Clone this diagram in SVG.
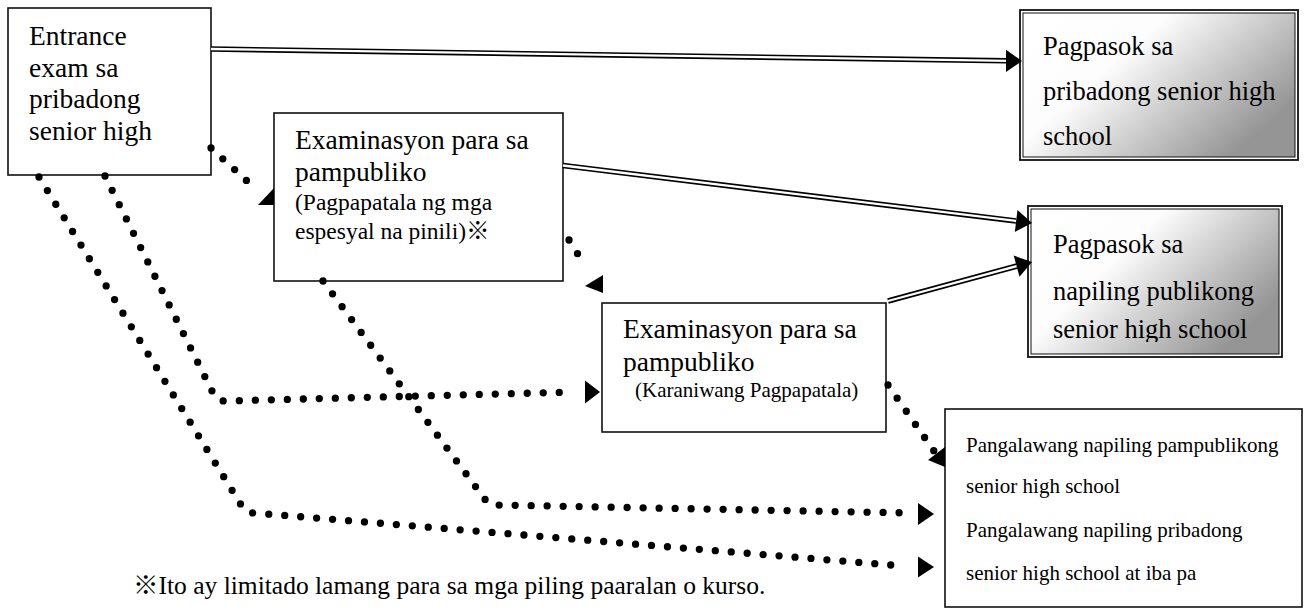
<svg xmlns="http://www.w3.org/2000/svg" width="1304" height="612" viewBox="0 0 1304 612">
<style>
  .box { fill:#fff; stroke:#111; stroke-width:1.6; }
  .outer { fill:none; stroke:#111; stroke-width:1.8; }
  .inner { fill:url(#grad); stroke:#111; stroke-width:1; }
  .t { font-family:"Liberation Serif","Times New Roman","Noto Sans CJK JP",serif; fill:#000; }
  .big { font-size:27.5px; }
  .mid { font-size:26.5px; }
  .sub { font-size:23.5px; }
  .small { font-size:21px; }
  .dot { fill:none; stroke:#000; stroke-width:7.3; stroke-linecap:round; stroke-dasharray:0 16; }
  .dblo { fill:none; stroke:#000; stroke-width:5.5; }
  .dbli { fill:none; stroke:#fff; stroke-width:2.3; }
  .head { fill:#000; }
</style>
<defs>
  <linearGradient id="grad" x1="0" y1="0" x2="1" y2="0.6">
    <stop offset="0" stop-color="#ffffff"/>
    <stop offset="0.4" stop-color="#fdfdfd"/>
    <stop offset="1" stop-color="#959595"/>
  </linearGradient>
  <clipPath id="clip5">
    <rect x="1031" y="209" width="248" height="133"/>
  </clipPath>
</defs>

<g id="node-entrance-exam">
  <rect class="box" x="8" y="8" width="203" height="167"/>
  <text class="t big" x="29" y="45">Entrance</text>
  <text class="t big" x="29" y="77">exam sa</text>
  <text class="t big" x="29" y="108">pribadong</text>
  <text class="t big" x="29" y="140">senior high</text>
</g>

<g id="node-exam-special">
  <rect class="box" x="274" y="113" width="289" height="168"/>
  <text class="t big" x="295" y="149">Examinasyon para sa</text>
  <text class="t big" x="295" y="181">pampubliko</text>
  <text class="t sub" x="295" y="210">(Pagpapatala ng mga</text>
  <text class="t sub" x="295" y="239">espesyal na pinili)※</text>
</g>

<g id="node-exam-general">
  <rect class="box" x="602" y="303" width="284" height="129"/>
  <text class="t big" x="623" y="338">Examinasyon para sa</text>
  <text class="t big" x="623" y="371">pampubliko</text>
  <text class="t small" x="635" y="397">(Karaniwang Pagpapatala)</text>
</g>

<g id="node-private-admission">
  <rect class="outer" x="1020" y="10" width="278" height="150"/>
  <rect class="inner" x="1023" y="13" width="272" height="144"/>
  <text class="t mid" x="1043" y="55">Pagpasok sa</text>
  <text class="t mid" x="1043" y="100">pribadong senior high</text>
  <text class="t mid" x="1043" y="145">school</text>
</g>

<g id="node-public-admission">
  <rect class="outer" x="1028" y="206" width="254" height="151"/>
  <rect class="inner" x="1031" y="209" width="248" height="145"/>
  <g clip-path="url(#clip5)">
    <text class="t mid" x="1053" y="253">Pagpasok sa</text>
    <text class="t mid" x="1053" y="300">napiling publikong</text>
    <text class="t mid" x="1053" y="338">senior high school</text>
  </g>
</g>

<g id="node-second-choice">
  <rect class="box" x="945" y="409" width="357" height="198"/>
  <text class="t small" x="966" y="452">Pangalawang napiling pampublikong</text>
  <text class="t small" x="966" y="493">senior high school</text>
  <text class="t small" x="966" y="537">Pangalawang napiling pribadong</text>
  <text class="t small" x="966" y="580">senior high school at iba pa</text>
</g>

<g id="connectors">
  <path class="dblo" d="M211,49 L1007,60.8"/>
  <path class="dbli" d="M211,49 L1009,60.8"/>
  <polygon class="head" points="1006,49.8 1022,61 1006,72"/>

  <path class="dblo" d="M563,165.5 L1016,221"/>
  <path class="dbli" d="M563,165.5 L1018,221.2"/>
  <polygon class="head" points="1017.5,210.1 1032,223 1014.8,231.9"/>

  <path class="dblo" d="M888,301 L1017,266"/>
  <path class="dbli" d="M888,301 L1019,265.5"/>
  <polygon class="head" points="1013.7,255.6 1032,262 1019.5,276.8"/>

  <path class="dot" d="M211,148 L258,191"/>
  <polygon class="head" points="258,205 274,188 274,205"/>

  <path class="dot" d="M569,240 L586,267"/>
  <polygon class="head" points="585,286 603,275 603,293"/>

  <path class="dot" d="M888,385 L934,451"/>
  <polygon class="head" points="928,460 945,447 945,467"/>

  <path class="dot" d="M105,176 L213,393 Q216,401 225,401 L575,392"/>
  <polygon class="head" points="585,380.5 600,392 585,403.5"/>

  <path class="dot" d="M323,281 L487,502 Q490,505 497,505 L911,513"/>
  <polygon class="head" points="918,503 934,514 918,525"/>

  <path class="dot" d="M39,177 L243,508 Q247,513 255,513 L903,566"/>
  <polygon class="head" points="918,556.5 934,567 918,577.5"/>
</g>

<text class="t" x="133" y="594" font-size="25.5">※Ito ay limitado lamang para sa mga piling paaralan o kurso.</text>
</svg>
